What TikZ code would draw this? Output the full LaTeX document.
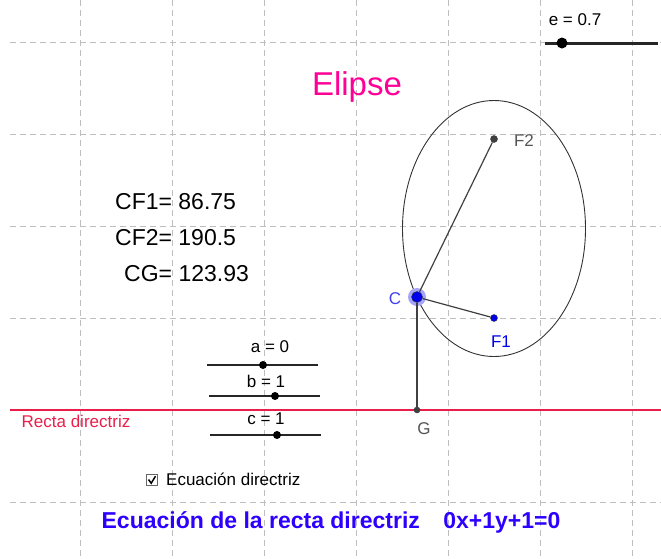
\documentclass[tikz,border=0pt]{standalone}
\usepackage{fontspec}
\setmainfont{Liberation Sans}
\definecolor{gridgray}{RGB}{190,190,190}
\definecolor{dirred}{RGB}{235,30,75}
\definecolor{elmag}{RGB}{255,0,150}
\definecolor{eqblue}{RGB}{45,0,255}
\definecolor{ptblue}{RGB}{0,0,235}
\definecolor{lbldark}{RGB}{85,85,85}
\tikzset{
  gridline/.style={gridgray, dash pattern=on 6pt off 4pt, line width=0.8pt},
  slider/.style={line width=2.4pt, black!85},
  knob/.style={circle, fill=black, inner sep=0pt, minimum size=#1},
  knob/.default=8pt,
  seg/.style={line width=1.2pt, black!75},
  gpoint/.style={circle, draw=black!80, fill=#1, inner sep=0pt, minimum size=7pt},
  lbl/.style={inner sep=0pt, font=\fontsize{17}{20}\selectfont},
  value/.style={inner sep=0pt, anchor=west, font=\fontsize{23}{27}\selectfont},
}
\begin{document}
\begin{tikzpicture}[x=1pt,y=-1pt]
    \useasboundingbox (0,0) rectangle (661,558);
    % grid
    \foreach \x in {80,172,...,632}
        \draw[gridline] (\x,0) -- (\x,558);
    \foreach \y in {42,134,...,502}
        \draw[gridline] (10,\y) -- (661,\y);

    % directrix
    \coordinate (dL) at (10,410);
    \coordinate (dR) at (661,410);
    \draw[dirred, line width=1.6pt] (dL) -- (dR);
    \node[lbl, dirred] (dlabel) at (76,421) {Recta directriz};

    % ellipse and points
    \draw[black!80, line width=0.9pt] (494,228.5) ellipse [x radius=91.5pt, y radius=128pt];
    \fill[ptblue!35] (417,297) circle (9pt);
    \node[gpoint=ptblue, minimum size=11pt] (C) at (417,297) {};
    \node[gpoint=ptblue] (F1) at (494,318) {};
    \node[gpoint=black!75] (F2) at (494,139) {};
    \node[gpoint=black!75, minimum size=6pt] (G) at (417,410) {};
    \draw[seg] (C) -- (F2);
    \draw[seg] (C) -- (F1);
    \draw[seg] (C) -- (G);
    \node[lbl, ptblue!75] at (395,299) {C};
    \node[lbl, ptblue] at (501,342) {F1};
    \node[lbl, lbldark] at (524,141) {F2};
    \node[lbl, lbldark] at (424,429) {G};

    % title and distances
    \node[inner sep=0pt, elmag, font=\fontsize{33}{38}\selectfont] (title) at (357,87) {Elipse};
    \node[value] (cf1) at (115,202) {CF1= 86.75};
    \node[value] (cf2) at (115,238) {CF2= 190.5};
    \node[value] (cg) at (124,274) {CG= 123.93};

    % sliders
    \coordinate (eL) at (545,43);
    \coordinate (eR) at (658,43);
    \draw[slider, line width=3pt] (eL) -- (eR);
    \node[knob=11pt] (eK) at (562,43) {};
    \node[lbl] at (575,20) {e = 0.7};

    \coordinate (aL) at (207,365);
    \coordinate (aR) at (318,365);
    \draw[slider] (aL) -- (aR);
    \node[knob] (aK) at (263,365) {};
    \node[lbl] at (270,347) {a = 0};

    \coordinate (bL) at (209,396);
    \coordinate (bR) at (320,396);
    \draw[slider] (bL) -- (bR);
    \node[knob] (bK) at (275,396) {};
    \node[lbl] at (266,381) {b = 1};

    \coordinate (cL) at (210,435);
    \coordinate (cR) at (321,435);
    \draw[slider] (cL) -- (cR);
    \node[knob] (cK) at (277,435) {};
    \node[lbl] at (266,419) {c = 1};

    % checkbox
    \node[draw=black!60, line width=0.9pt, fill=white, inner sep=0pt, minimum size=10.5pt] (box) at (152,480) {};
    \draw[black, line width=1.5pt] (148.5,479.5) -- (151.2,483.2) -- (155.5,476.2);
    \node[lbl, anchor=west] (chk) at (166,479) {Ecuación directriz};

    % equation
    \node[inner sep=0pt, eqblue, font=\bfseries\fontsize{23}{27}\selectfont] (eq) at (331,522)
        {Ecuación de la recta directriz\hspace{17pt} 0x+1y+1=0};
\end{tikzpicture}
\end{document}
